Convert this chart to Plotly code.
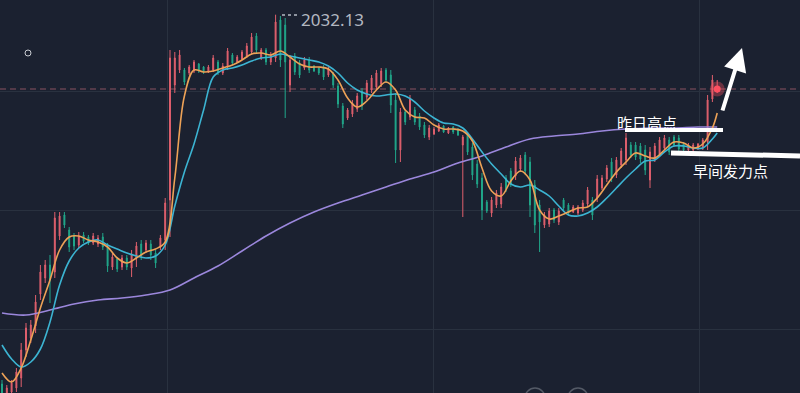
import plotly.graph_objects as go

# ---------------- data ----------------
idx = list(range(150))

opens = [1995.2,1994.1,1994.4,1994.8,1995.8,1998.6,1999.8,2001.0,2004.2,2005.8,
         2007.1,2006.4,2010.0,2012.1,2010.6,2010.0,2009.1,2010.1,2009.9,2009.3,
         2009.2,2009.9,2008.9,2006.9,2007.7,2006.9,2007.8,2006.8,2007.8,2009.2,
         2008.6,2009.2,2008.3,2008.9,2009.6,2013.6,2025.1,2026.6,2026.6,2026.3,
         2026.5,2027.2,2026.9,2026.4,2026.6,2027.4,2026.3,2026.9,2028.1,2027.4,
         2027.7,2028.0,2028.4,2030.0,2027.8,2028.6,2027.4,2027.8,2031.6,2031.1,
         2025.1,2028.0,2027.3,2026.8,2027.6,2027.0,2026.8,2026.8,2026.1,2026.2,
         2025.0,2023.0,2021.8,2022.2,2022.7,2024.5,2023.9,2024.6,2024.9,2025.2,
         2026.6,2026.1,2023.6,2018.6,2022.4,2021.9,2022.6,2022.0,2021.1,2019.9,
         2020.2,2020.5,2021.0,2020.3,2020.9,2020.7,2019.1,2020.1,2018.9,2017.2,
         2015.8,2013.4,2012.3,2013.1,2013.2,2015.8,2016.5,2016.0,2016.7,2018.1,
         2017.4,2015.1,2013.1,2011.1,2011.2,2012.6,2011.4,2013.6,2013.1,2012.4,
         2012.3,2012.6,2013.2,2013.6,2013.8,2014.8,2015.7,2017.4,2016.1,2017.1,
         2017.6,2019.1,2019.1,2019.0,2018.6,2015.6,2017.7,2018.2,2018.8,2019.6,
         2019.9,2019.8,2019.2,2018.6,2018.6,2018.7,2018.8,2019.4,2023.7,2024.4]

highs = [1995.6,1995.1,1995.6,1996.8,1999.3,2001.3,2001.6,2004.1,2007.1,2007.6,
         2008.1,2012.4,2012.4,2012.4,2010.9,2010.3,2010.4,2010.4,2010.1,2010.3,
         2010.1,2010.3,2009.3,2008.3,2007.9,2008.1,2008.1,2008.6,2009.4,2009.6,
         2009.6,2009.6,2008.6,2010.1,2013.8,2028.6,2028.4,2028.6,2026.8,2027.1,
         2027.6,2027.3,2027.0,2027.1,2028.1,2027.6,2027.3,2028.8,2028.3,2028.1,
         2028.6,2029.3,2030.3,2030.3,2028.8,2028.8,2028.4,2032.13,2032.0,2031.8,
         2028.1,2028.3,2027.6,2027.9,2027.9,2027.1,2026.9,2027.1,2026.9,2026.4,
         2025.3,2023.3,2022.8,2023.6,2024.3,2024.8,2025.6,2026.1,2026.6,2026.8,
         2026.8,2026.6,2024.3,2022.8,2022.6,2024.1,2022.9,2022.3,2021.4,2021.1,
         2020.9,2021.3,2021.1,2020.9,2021.0,2020.8,2020.1,2020.4,2019.3,2017.6,
         2016.3,2013.6,2013.9,2014.6,2015.3,2016.1,2016.8,2017.9,2018.1,2018.4,
         2017.9,2015.6,2013.6,2012.4,2012.8,2012.8,2012.8,2013.8,2013.3,2013.1,
         2013.1,2013.6,2014.9,2013.9,2016.1,2016.1,2017.1,2017.8,2017.9,2018.8,
         2020.3,2019.4,2019.4,2019.3,2019.1,2018.9,2019.3,2019.9,2020.1,2019.9,
         2020.1,2020.1,2019.4,2019.3,2019.3,2019.3,2019.8,2024.1,2026.1,2025.6]

lows = [1993.8,1993.8,1994.1,1994.4,1994.9,1997.9,1999.3,2000.3,2003.6,2005.3,
        2003.3,2005.8,2009.6,2010.8,2008.4,2008.6,2008.8,2009.3,2009.1,2009.1,
        2008.9,2008.6,2006.4,2006.6,2006.4,2006.6,2006.6,2005.9,2006.9,2007.6,
        2008.3,2007.6,2006.8,2008.6,2008.6,2009.9,2024.3,2026.3,2025.1,2026.1,
        2026.3,2026.3,2026.2,2026.3,2026.4,2026.1,2026.1,2026.6,2027.1,2027.3,
        2027.6,2027.8,2028.1,2028.3,2027.6,2027.1,2027.1,2027.4,2026.9,2021.8,
        2024.4,2026.1,2025.8,2026.6,2026.3,2026.4,2026.1,2025.6,2025.9,2024.8,
        2022.8,2020.8,2021.6,2021.9,2022.4,2022.6,2023.6,2024.3,2024.6,2024.9,
        2025.3,2022.3,2017.3,2017.4,2021.1,2021.6,2021.1,2020.6,2019.8,2019.6,
        2020.1,2020.4,2020.3,2020.2,2020.2,2020.0,2011.9,2018.1,2015.6,2014.8,
        2011.6,2012.3,2011.9,2012.8,2012.8,2014.4,2014.9,2015.6,2016.4,2016.1,
        2011.9,2010.3,2008.4,2010.8,2010.9,2011.3,2011.1,2012.6,2012.1,2012.3,
        2012.1,2012.4,2012.9,2011.6,2013.4,2014.6,2015.4,2015.4,2015.8,2016.8,
        2017.1,2017.8,2017.6,2017.3,2016.1,2014.8,2017.4,2017.9,2018.6,2018.1,
        2018.9,2018.4,2018.4,2018.4,2018.4,2018.6,2018.6,2018.6,2023.4,2024.3]

closes = [1994.1,1994.8,1995.3,1996.4,1998.6,2000.8,2001.1,2003.4,2006.4,2007.1,
          2005.6,2011.8,2012.0,2011.1,2008.9,2009.0,2010.0,2009.5,2009.3,2010.0,
          2009.8,2008.9,2007.0,2007.9,2006.7,2007.8,2006.9,2008.2,2009.0,2008.0,
          2009.3,2008.1,2007.3,2009.8,2013.3,2027.8,2027.8,2028.1,2025.4,2026.9,
          2027.4,2026.5,2026.4,2026.9,2027.8,2026.4,2027.0,2028.5,2027.3,2027.9,
          2028.4,2029.0,2029.9,2028.6,2028.6,2027.4,2028.1,2031.4,2027.6,2027.4,
          2027.6,2026.4,2026.1,2027.6,2026.6,2026.5,2026.3,2025.9,2026.7,2025.1,
          2023.2,2021.2,2022.6,2023.3,2024.0,2023.0,2025.3,2025.8,2026.3,2026.5,
          2025.6,2023.1,2018.6,2022.4,2021.4,2023.7,2021.4,2020.9,2020.1,2020.8,
          2020.7,2021.1,2020.4,2020.8,2020.4,2020.1,2019.9,2018.4,2016.1,2015.2,
          2012.6,2012.5,2013.6,2014.3,2014.9,2014.7,2015.2,2017.5,2017.8,2016.5,
          2013.1,2011.1,2011.4,2012.1,2012.5,2011.6,2012.5,2012.8,2012.3,2012.9,
          2012.9,2013.3,2014.6,2012.1,2015.7,2015.8,2016.8,2015.8,2017.6,2018.5,
          2019.8,2018.1,2017.9,2017.7,2016.6,2018.4,2019.0,2019.6,2019.8,2018.4,
          2019.1,2018.7,2018.6,2019.1,2019.1,2019.2,2019.6,2023.6,2025.6,2024.7]

# moving averages (read at every 2nd / 5th bar)
ma_fast_idx = list(range(0, 150, 2)) + [149]
ma_fast = [1996.3,1995.4,1996.8,1999.6,2002.8,2005.6,2008.6,2009.9,2010.0,2009.6,
           2009.4,2008.9,2007.8,2007.3,2007.8,2008.4,2008.7,2009.4,2015.8,2024.0,
           2026.6,2026.4,2026.5,2026.8,2027.1,2027.6,2028.2,2028.3,2028.1,2028.5,
           2027.9,2027.2,2026.9,2026.9,2026.7,2025.6,2023.8,2022.9,2023.5,2024.6,
           2025.4,2024.6,2022.6,2021.9,2021.8,2021.1,2020.7,2020.7,2020.5,2019.5,
           2016.8,2014.5,2014.0,2015.5,2016.5,2015.6,2012.6,2011.7,2012.0,2012.4,
           2012.8,2012.9,2013.8,2015.1,2016.4,2017.4,2018.3,2018.0,2017.8,2018.6,
           2019.4,2019.3,2018.8,2019.2,2020.8,2022.3]

ma_mid_idx = list(range(0, 150, 2)) + [149]
ma_mid = [1999.1,1997.7,1996.9,1997.4,1998.7,2001.4,2005.1,2007.5,2008.8,2009.4,
          2009.6,2009.1,2008.7,2008.3,2008.0,2007.8,2008.0,2009.1,2013.0,2016.4,
          2019.2,2022.6,2025.9,2026.6,2026.8,2027.1,2027.5,2027.8,2027.9,2028.2,
          2028.0,2027.8,2027.6,2027.4,2027.0,2026.3,2025.3,2024.6,2024.2,2024.0,
          2024.1,2024.2,2024.0,2023.4,2022.5,2021.8,2021.3,2021.2,2020.8,2019.7,
          2018.4,2017.2,2016.2,2015.2,2014.9,2015.1,2014.6,2014.0,2013.0,2012.1,
          2012.0,2012.3,2012.9,2013.8,2014.8,2015.8,2016.7,2017.5,2017.6,2018.4,
          2019.0,2019.0,2018.8,2018.8,2019.7,2020.3]

ma_slow_idx = list(range(0, 150, 5)) + [149]
ma_slow = [2002.3,2002.1,2002.6,2003.2,2003.6,2003.8,2004.1,2004.6,2005.8,2007.0,
           2008.5,2010.0,2011.3,2012.4,2013.3,2014.1,2014.9,2015.7,2016.4,2017.3,
           2018.0,2018.9,2019.7,2020.0,2020.2,2020.5,2020.7,2020.8,2020.8,2020.9,
           2020.9]

label_high = "昨日高点"
label_morning = "早间发力点"

# ---------------- styling ----------------
W, H = 800, 393
BG = "#1b2130"
GRID = "#29313f"
UP = "#e0606d"
DOWN = "#21a78a"

def px(x, y):
    return x / W, 1 - y / H

fig = go.Figure()

fig.add_trace(go.Candlestick(
    x=idx, open=opens, high=highs, low=lows, close=closes,
    increasing=dict(line=dict(color=UP, width=1), fillcolor=UP),
    decreasing=dict(line=dict(color=DOWN, width=1), fillcolor=DOWN),
    whiskerwidth=0, showlegend=False, hoverinfo="skip"))

fig.add_trace(go.Scatter(x=ma_slow_idx, y=ma_slow, mode="lines",
                         line=dict(color="#9b87dc", width=1.6, shape="spline"),
                         showlegend=False, hoverinfo="skip"))
fig.add_trace(go.Scatter(x=ma_mid_idx, y=ma_mid, mode="lines",
                         line=dict(color="#3cb4d2", width=1.6, shape="spline"),
                         showlegend=False, hoverinfo="skip"))
fig.add_trace(go.Scatter(x=ma_fast_idx, y=ma_fast, mode="lines",
                         line=dict(color="#eda257", width=1.6, shape="spline"),
                         showlegend=False, hoverinfo="skip"))

# live price glow
fig.add_trace(go.Scatter(x=[idx[-1]], y=[closes[-1]], mode="markers",
                         marker=dict(size=15, color="rgba(255,80,95,0.35)"),
                         showlegend=False, hoverinfo="skip"))
fig.add_trace(go.Scatter(x=[idx[-1]], y=[closes[-1]], mode="markers",
                         marker=dict(size=7, color="#ff4f60"),
                         showlegend=False, hoverinfo="skip"))

shapes = []
# current price dashed line
shapes.append(dict(type="line", xref="paper", x0=0, x1=1, yref="y",
                   y0=closes[-1], y1=closes[-1],
                   line=dict(color="#8a5260", width=1, dash="6px,4px"), layer="below"))
# white marker lines
x0, y0 = px(625, 130); x1, y1 = px(723, 130)
shapes.append(dict(type="line", xref="paper", yref="paper", x0=x0, y0=y0, x1=x1, y1=y1,
                   line=dict(color="white", width=4)))
x0, y0 = px(671, 153); x1, y1 = px(800, 156)
shapes.append(dict(type="line", xref="paper", yref="paper", x0=x0, y0=y0, x1=x1, y1=y1,
                   line=dict(color="white", width=5)))
# dotted leader of the high label
x0, y0 = px(282, 15); x1, y1 = px(297, 15)
shapes.append(dict(type="line", xref="paper", yref="paper", x0=x0, y0=y0, x1=x1, y1=y1,
                   line=dict(color="#b5bac3", width=1.5, dash="dot")))
# small circle at top-left
cx0, cy0 = px(25, 50); cx1, cy1 = px(31, 56)
shapes.append(dict(type="circle", xref="paper", yref="paper", x0=cx0, y0=cy1, x1=cx1, y1=cy0,
                   line=dict(color="#c9ccd2", width=1)))
# partial circles at the bottom edge
for cx in (535, 578):
    a0, b0 = px(cx - 10, 388); a1, b1 = px(cx + 10, 408)
    shapes.append(dict(type="circle", xref="paper", yref="paper", x0=a0, y0=b1, x1=a1, y1=b0,
                       line=dict(color="#545a66", width=1.5)))

annotations = []
imax = max(range(len(highs)), key=lambda k: highs[k])
ax_, ay_ = px(299, 19)
annotations.append(dict(x=ax_, y=ay_, xref="paper", yref="paper", xanchor="left", yanchor="middle",
                        text=f"{highs[imax]:.2f}", showarrow=False,
                        font=dict(family="Noto Sans, Open Sans, sans-serif", size=17, color="#b3b8c1")))
tx, ty = px(647, 122)
annotations.append(dict(x=tx, y=ty, xref="paper", yref="paper", xanchor="center", yanchor="middle",
                        text=label_high, showarrow=False,
                        font=dict(family="Noto Sans CJK SC", size=15, color="white")))
tx, ty = px(730, 171)
annotations.append(dict(x=tx, y=ty, xref="paper", yref="paper", xanchor="center", yanchor="middle",
                        text=label_morning, showarrow=False,
                        font=dict(family="Noto Sans CJK SC", size=15, color="white")))
hx, hy = px(742, 48)
annotations.append(dict(x=hx, y=hy, xref="paper", yref="paper", text="", showarrow=True,
                        ax=-20, ay=64, arrowhead=2, arrowsize=1.15, arrowwidth=4,
                        arrowcolor="white"))

fig.update_layout(
    width=W, height=H, margin=dict(l=0, r=0, t=0, b=0),
    paper_bgcolor=BG, plot_bgcolor=BG,
    shapes=shapes, annotations=annotations, boxgap=0.72,
    xaxis=dict(range=[-0.417, 166.25], showticklabels=False, zeroline=False,
               showgrid=True, gridcolor=GRID, gridwidth=1, tick0=34.375, dtick=55.5,
               rangeslider=dict(visible=False), fixedrange=True),
    yaxis=dict(range=[1994.3, 2033.6], showticklabels=False, zeroline=False,
               showgrid=True, gridcolor=GRID, gridwidth=1, tick0=2000.7, dtick=11.9,
               fixedrange=True),
)

fig.write_html("out.html", config=dict(displayModeBar=False),
               post_script="document.body.style.margin='0';document.body.style.background='#1b2130';")
